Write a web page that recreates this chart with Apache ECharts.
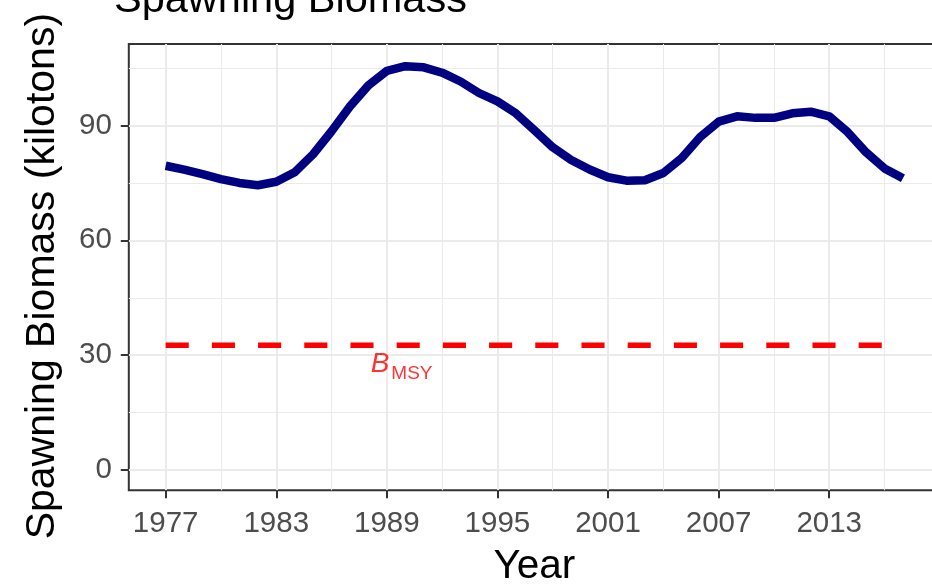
<!DOCTYPE html>
<html><head><meta charset="utf-8">
<script src="https://cdn.jsdelivr.net/npm/echarts@6/dist/echarts.min.js"></script>
<style>html,body{margin:0;padding:0;background:#fff}#c{width:932px;height:587px}</style>
</head><body><div id="c"></div>
<script>
const chartTitle = 'Spawning Biomass';
const xTitle = 'Year';
const yTitle = 'Spawning Biomass (kilotons)';
const years = [1977,1978,1979,1980,1981,1982,1983,1984,1985,1986,1987,1988,1989,1990,1991,1992,1993,1994,1995,1996,1997,1998,1999,2000,2001,2002,2003,2004,2005,2006,2007,2008,2009,2010,2011,2012,2013,2014,2015,2016,2017];
const biomass = [79.5,78.5,77.3,76.0,75.0,74.4,75.3,77.8,82.5,88.5,95.0,100.5,104.3,105.5,105.2,103.8,101.5,98.5,96.3,93.2,88.8,84.3,81.0,78.5,76.5,75.6,75.7,77.6,81.5,87.0,91.0,92.4,92.0,92.0,93.2,93.6,92.4,88.3,83.0,78.8,76.2];
const bmsyValue = 32.6;
const bmsyYears = [1977, 2017];
const bmsyLabelPos = [1989.8, 26.4];
const xMajorTicks = [1977,1983,1989,1995,2001,2007,2013];
const xMinorTicks = [1980,1986,1992,1998,2004,2010,2016];
const yMajorTicks = [0,30,60,90];
const yMinorTicks = [15,45,75,105];
const xRange = [1975, 2019];
const yRange = [-5.3, 111.3];

const FONT = '"Liberation Sans", Arial, sans-serif';
const chart = echarts.init(document.getElementById('c'), null, {renderer:'canvas'});

function majorAxis(extra){
  return Object.assign({
    type:'value', gridIndex:0,
    axisLine:{show:false, onZero:false},
    splitLine:{show:true, lineStyle:{color:'#EBEBEB', width:2}},
    nameTextStyle:{color:'#000', fontSize:40.5, fontFamily:FONT}
  }, extra);
}
function minorAxis(extra){
  return Object.assign({
    type:'value', gridIndex:0,
    axisLine:{show:false, onZero:false},
    axisLabel:{show:false},
    splitLine:{show:true, lineStyle:{color:'#EBEBEB', width:1}}
  }, extra);
}

const option = {
  animation:false,
  backgroundColor:'#ffffff',
  title:{text:chartTitle, left:114, top:-20, padding:0,
    textStyle:{fontSize:41.5, fontWeight:'normal', color:'#000', fontFamily:FONT}},
  grid:{left:128.8, top:44, width:811, height:446.3, show:true, borderColor:'#333333', borderWidth:2,
    backgroundColor:'transparent', containLabel:false, outerBoundsMode:'none'},
  xAxis:[
    majorAxis({position:'bottom', min:xRange[0], max:xRange[1],
      axisTick:{show:true, length:8, customValues:xMajorTicks, lineStyle:{color:'#333333', width:2}},
      axisLabel:{color:'#4D4D4D', fontSize:29.5, fontFamily:FONT, margin:19, customValues:xMajorTicks,
        formatter:function(v){return String(v);}},
      name:xTitle, nameLocation:'middle', nameGap:56.5}),
    minorAxis({position:'top', min:xRange[0], max:xRange[1],
      axisTick:{show:false, customValues:xMinorTicks}})
  ],
  yAxis:[
    majorAxis({position:'left', min:yRange[0], max:yRange[1],
      axisTick:{show:true, length:8, customValues:yMajorTicks, lineStyle:{color:'#333333', width:2}},
      axisLabel:{color:'#4D4D4D', fontSize:29.5, fontFamily:FONT, margin:17, customValues:yMajorTicks, padding:[8,0,0,0],
        formatter:function(v){return String(v);}},
      name:yTitle, nameLocation:'middle', nameGap:66, nameRotate:90,
      nameTextStyle:{color:'#000', fontSize:41, fontFamily:FONT, padding:[0,18,0,0]}}),
    minorAxis({position:'right', min:yRange[0], max:yRange[1],
      axisTick:{show:false, customValues:yMinorTicks}})
  ],
  series:[
    {type:'line', xAxisIndex:0, yAxisIndex:0, showSymbol:false, symbol:'none', silent:true,
      data:years.map((y,i)=>[y, biomass[i]]),
      lineStyle:{color:'#000080', width:8.5, join:'round'}, z:3},
    {type:'line', xAxisIndex:0, yAxisIndex:0, showSymbol:false, symbol:'none', silent:true,
      data:bmsyYears.map(y=>[y, bmsyValue]),
      lineStyle:{color:'#FF0000', width:5.5, type:[23.1,23.1]}, z:2},
    {type:'scatter', xAxisIndex:0, yAxisIndex:0, symbolSize:0, silent:true,
      data:[bmsyLabelPos],
      label:{show:true, position:'inside', color:'#FF0000',
        formatter:function(){return '{it|B}{sub|MSY}';},
        rich:{
          it:{fontStyle:'italic', fontSize:28, lineHeight:28, padding:[0,2,5,0], verticalAlign:'bottom', color:'#FF0000', fontFamily:FONT},
          sub:{fontSize:19, verticalAlign:'bottom', color:'#FF0000', fontFamily:FONT}
        }}, z:4}
  ]
};
chart.setOption(option);
</script>
</body></html>
